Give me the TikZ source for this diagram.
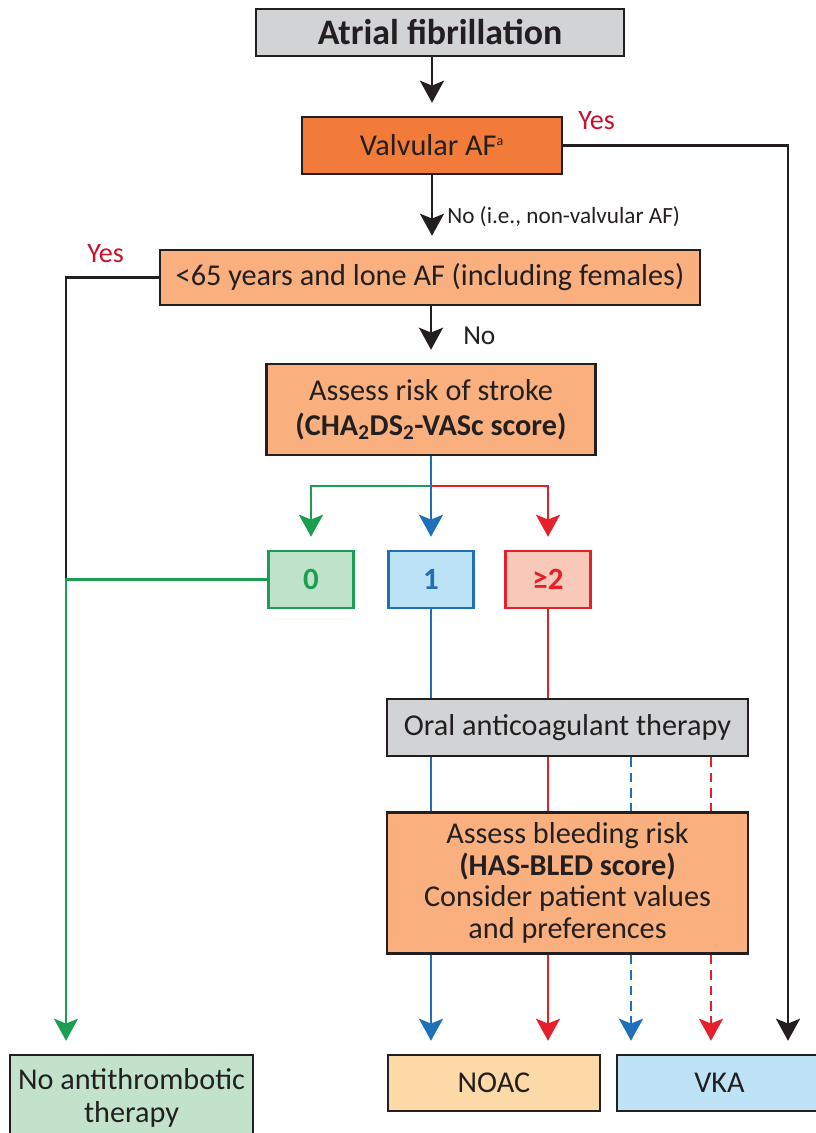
\documentclass[tikz,border=0pt]{standalone}
\usepackage{fontspec}
\setmainfont{Carlito}
\usetikzlibrary{positioning,arrows.meta}

\definecolor{boxgrey}{HTML}{D1D3D4}
\definecolor{valvorange}{HTML}{F27B3A}
\definecolor{lightorange}{HTML}{F9B07E}
\definecolor{noacfill}{HTML}{FCD9A6}
\definecolor{vkafill}{HTML}{BEE3F6}
\definecolor{nonefill}{HTML}{C2E2CC}
\definecolor{scgreen}{HTML}{1C9E52}
\definecolor{scblue}{HTML}{1F70B8}
\definecolor{scred}{HTML}{E3202B}
\definecolor{yesred}{HTML}{C8102E}
\definecolor{greenfill}{HTML}{BFE2CB}
\definecolor{bluefill}{HTML}{BCE2F6}
\definecolor{redfill}{HTML}{F8C8B8}
\definecolor{inkblack}{HTML}{231F20}

\begin{document}
\begin{tikzpicture}[x=0.025cm, y=-0.025cm,
                    boxnode/.style={rectangle, draw=inkblack, line width=1.5pt, inner sep=0pt, align=center, text=inkblack, font=\fontsize{21.5}{25}\selectfont},
                    greynode/.style={boxnode, fill=boxgrey},
                    orangenode/.style={boxnode, fill=lightorange},
                    scorenode/.style={rectangle, line width=1.5pt, inner sep=0pt, minimum width=2.125cm, minimum height=1.425cm, font=\fontsize{22}{24}\selectfont\bfseries},
                    labelnode/.style={inner sep=0pt, text=inkblack, font=\fontsize{19.5}{22}\selectfont},
                    yesnode/.style={inner sep=0pt, text=yesred, font=\fontsize{20}{22}\selectfont},
                    plain/.style={line width=1.8pt, inkblack},
                    arr/.style={plain, -{Stealth[length=5.5mm, width=6mm, inset=1.2mm]}, shorten >=0.33cm},
                    dashline/.style={dash pattern=on 7pt off 4pt},
                ]
                    \useasboundingbox (0,0) rectangle (816,1133);

                    %Nodes
                    \node[greynode, minimum width=9.2cm, minimum height=1.175cm, font=\fontsize{25.5}{28}\selectfont\bfseries](af) at (440,32.5) {Atrial fibrillation};
                    \node[boxnode, fill=valvorange, minimum width=6.5cm, minimum height=1.425cm](valv) at (432,145.5) {Valvular AF\textsuperscript{\fontsize{10}{10}\selectfont a}};
                    \node[orangenode, minimum width=13.5cm, minimum height=1.375cm](age) at (430,277.5) {<65 years and lone AF (including females)};
                    \node[orangenode, minimum width=8.225cm, minimum height=2.275cm](stroke) at (431,409.5) {Assess risk of stroke\\\textbf{(CHA\textsubscript{2}DS\textsubscript{2}-VASc score)}};
                    \node[scorenode, draw=scgreen, fill=greenfill, text=scgreen](sc0) at (311,579.5) {0};
                    \node[scorenode, draw=scblue, fill=bluefill, text=scblue](sc1) at (431,579.5) {1};
                    \node[scorenode, draw=scred, fill=redfill, text=scred](sc2) at (548,579.5) {≥2};
                    \node[greynode, minimum width=9.025cm, minimum height=1.425cm](oral) at (567.5,727.5) {Oral anticoagulant therapy};
                    \node[orangenode, minimum width=9.025cm, minimum height=3.525cm, font=\fontsize{21.5}{22.5}\selectfont](bleed) at (567.5,883) {Assess bleeding risk\\\textbf{(HAS-BLED score)}\\Consider patient values\\and preferences};
                    \node[boxnode, fill=noacfill, minimum width=5.3cm, minimum height=1.4cm](noac) at (494,1083) {NOAC};
                    \node[boxnode, fill=vkafill, minimum width=5.125cm, minimum height=1.4cm](vka) at (719.5,1083) {VKA};
                    \node[boxnode, fill=nonefill, minimum width=6.075cm, minimum height=2.15cm, font=\fontsize{21.5}{23.5}\selectfont](none) at (131.5,1098) {No antithrombotic\\therapy};

                    %Labels
                    \node[yesnode, anchor=west](yesvalv) at (578,121) {Yes};
                    \node[labelnode, anchor=west, font=\fontsize{16.5}{18}\selectfont](novalv) at (447,217) {No (i.e., non-valvular AF)};
                    \node[yesnode, anchor=west](yesage) at (87,254) {Yes};
                    \node[labelnode, anchor=west](noage) at (463,336) {No};

                    %Turning points
                    \coordinate (split) at (431,486);
                    \coordinate (leftturn) at (66,579.5);
                    \coordinate (rightturn) at (788,0);
                    \coordinate (bdash) at (631,0);
                    \coordinate (rdash) at (711,0);

                    %Lines
                    \draw[arr](af.south -| valv.north) -- (valv.north);
                    \draw[arr](valv.south) -- (age.north -| valv.south);
                    \draw[arr](age.south -| stroke.north) -- (stroke.north);
                    \draw[arr](valv.east) -- (valv.east -| rightturn) -- (rightturn |- vka.north);
                    \draw[plain](age.west) -| (leftturn);
                    \draw[arr, scgreen](sc0.west) -- (leftturn) -- (leftturn |- none.north);

                    \draw[arr, scgreen](split) -| (sc0.north);
                    \draw[arr, scred](split) -| (sc2.north);
                    \draw[arr, scblue](stroke.south) -- (sc1.north);

                    \draw[plain, scblue](sc1.south) -- (oral.north -| sc1.south);
                    \draw[plain, scred](sc2.south) -- (oral.north -| sc2.south);
                    \draw[plain, scblue](oral.south -| sc1.south) -- (bleed.north -| sc1.south);
                    \draw[plain, scred](oral.south -| sc2.south) -- (bleed.north -| sc2.south);
                    \draw[plain, scblue, dashline](oral.south -| bdash) -- (bleed.north -| bdash);
                    \draw[plain, scred, dashline](oral.south -| rdash) -- (bleed.north -| rdash);

                    \draw[arr, scblue](bleed.south -| sc1.south) -- (noac.north -| sc1.south);
                    \draw[arr, scred](bleed.south -| sc2.south) -- (noac.north -| sc2.south);
                    \draw[arr, scblue, dashline](bleed.south -| bdash) -- (vka.north -| bdash);
                    \draw[arr, scred, dashline](bleed.south -| rdash) -- (vka.north -| rdash);
                \end{tikzpicture}
\end{document}
